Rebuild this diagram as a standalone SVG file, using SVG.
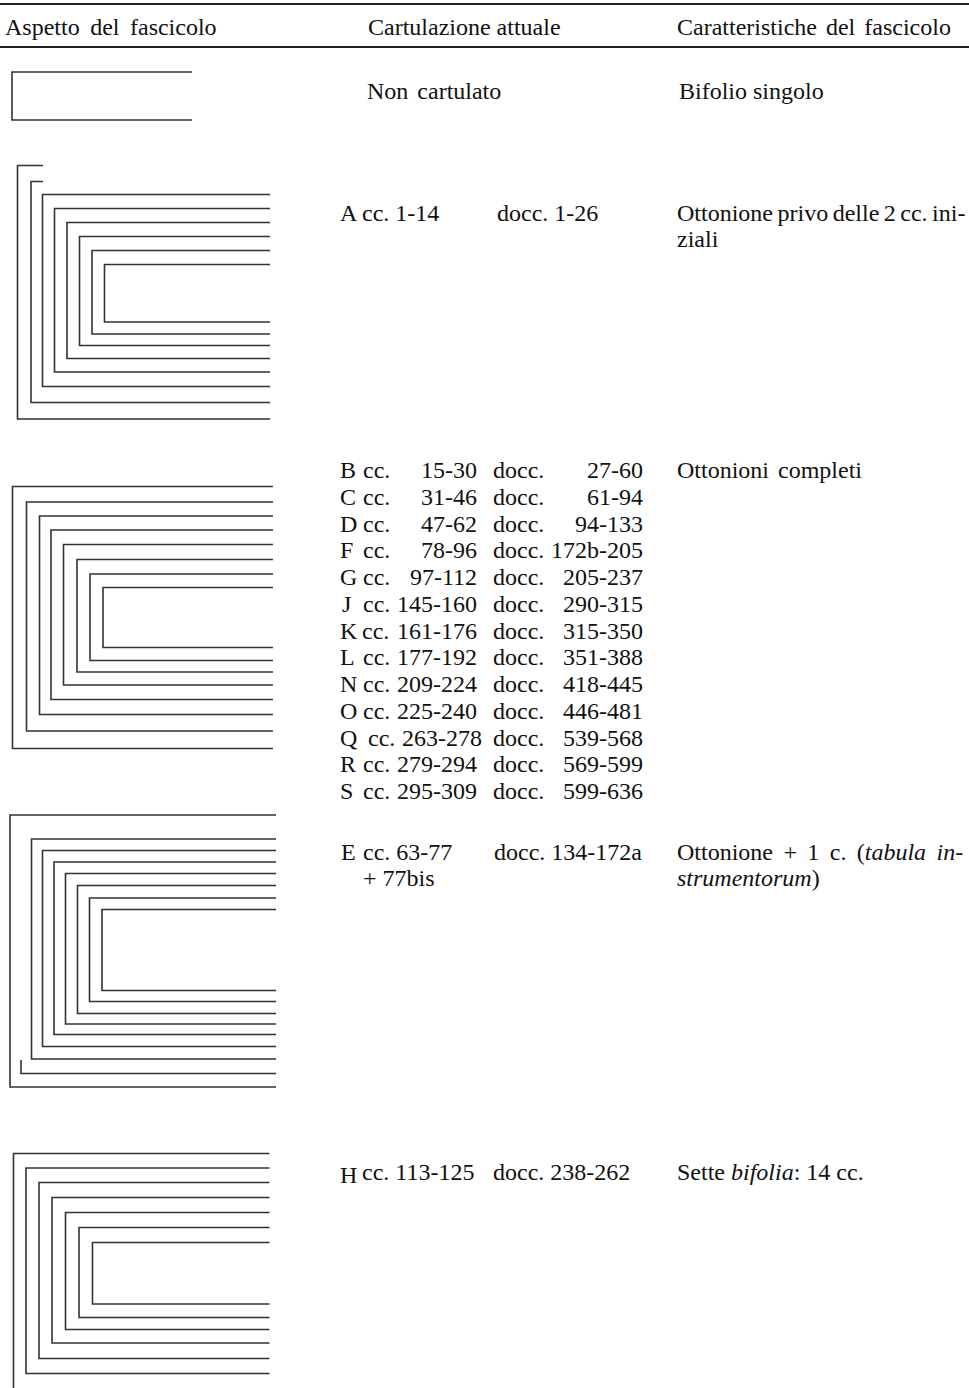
<svg xmlns="http://www.w3.org/2000/svg" width="969" height="1388" viewBox="0 0 969 1388">
<style>
text{font-family:"Liberation Serif","Times New Roman",serif;font-size:24px;fill:#111}
.it{font-style:italic}
.leaf{fill:none;stroke:#333;stroke-width:1.6}
.rule{stroke:#222;stroke-width:2}
.e{text-anchor:end}
</style>
<rect width="969" height="1388" fill="#fff"/>
<g id="header">
<line class="rule" x1="0" y1="4" x2="969" y2="4"/>
<line class="rule" x1="0" y1="47" x2="969" y2="47"/>
<text x="5" y="35" word-spacing="4.5">Aspetto del fascicolo</text>
<text x="368" y="35">Cartulazione attuale</text>
<text x="677" y="35" word-spacing="3">Caratteristiche del fascicolo</text>
</g>
<g id="row-bifolio">
<path class="leaf" d="M192,72 H12 V120 H192"/>
<text x="367" y="99" word-spacing="3">Non cartulato</text>
<text x="679" y="99">Bifolio singolo</text>
</g>
<g id="row-A">
<path class="leaf" d="M43,165.5 H17.5 V419 H270"/>
<path class="leaf" d="M43,181.5 H31 V402.5 H270"/>
<path class="leaf" d="M270,194.5 H42.5 V386.5 H270"/>
<path class="leaf" d="M270,208.5 H54.5 V372 H270"/>
<path class="leaf" d="M270,222.5 H67 V358.5 H270"/>
<path class="leaf" d="M270,236.5 H79.5 V345.5 H270"/>
<path class="leaf" d="M270,250.5 H92 V334 H270"/>
<path class="leaf" d="M270,264.5 H104.5 V322 H270"/>
<text x="340" y="221">A</text>
<text x="362" y="221">cc. 1-14</text>
<text x="497" y="221">docc. 1-26</text>
<text x="677" y="221" word-spacing="-1.5">Ottonione privo delle 2 cc. ini-</text>
<text x="677" y="247">ziali</text>
</g>
<g id="row-B">
<path class="leaf" d="M273,486.5 H12.5 V748.5 H273"/>
<path class="leaf" d="M273,502 H26.5 V731 H273"/>
<path class="leaf" d="M273,516 H39.5 V714.5 H273"/>
<path class="leaf" d="M273,530 H51 V699.5 H273"/>
<path class="leaf" d="M273,544.5 H63.5 V685 H273"/>
<path class="leaf" d="M273,559.5 H77 V672 H273"/>
<path class="leaf" d="M273,574 H90 V660.5 H273"/>
<path class="leaf" d="M273,587.5 H103 V647.5 H273"/>
<g transform="translate(0,478)">
<text x="340" y="0">B</text><text x="363" y="0">cc.</text><text class="e" x="477" y="0">15-30</text><text x="493" y="0">docc.</text><text class="e" x="643" y="0">27-60</text>
<text x="340" y="26.75">C</text><text x="363" y="26.75">cc.</text><text class="e" x="477" y="26.75">31-46</text><text x="493" y="26.75">docc.</text><text class="e" x="643" y="26.75">61-94</text>
<text x="340" y="53.5">D</text><text x="363" y="53.5">cc.</text><text class="e" x="477" y="53.5">47-62</text><text x="493" y="53.5">docc.</text><text class="e" x="643" y="53.5">94-133</text>
<text x="340" y="80.25">F</text><text x="363" y="80.25">cc.</text><text class="e" x="477" y="80.25">78-96</text><text x="493" y="80.25">docc.</text><text class="e" x="643" y="80.25">172b-205</text>
<text x="340" y="107">G</text><text x="363" y="107">cc.</text><text class="e" x="477" y="107">97-112</text><text x="493" y="107">docc.</text><text class="e" x="643" y="107">205-237</text>
<text x="342" y="133.75">J</text><text x="363" y="133.75">cc.</text><text class="e" x="477" y="133.75">145-160</text><text x="493" y="133.75">docc.</text><text class="e" x="643" y="133.75">290-315</text>
<text x="340" y="160.5">K</text><text x="362" y="160.5">cc.</text><text class="e" x="477" y="160.5">161-176</text><text x="493" y="160.5">docc.</text><text class="e" x="643" y="160.5">315-350</text>
<text x="340" y="187.25">L</text><text x="363" y="187.25">cc.</text><text class="e" x="477" y="187.25">177-192</text><text x="493" y="187.25">docc.</text><text class="e" x="643" y="187.25">351-388</text>
<text x="340" y="214">N</text><text x="363" y="214">cc.</text><text class="e" x="477" y="214">209-224</text><text x="493" y="214">docc.</text><text class="e" x="643" y="214">418-445</text>
<text x="340" y="240.75">O</text><text x="363" y="240.75">cc.</text><text class="e" x="477" y="240.75">225-240</text><text x="493" y="240.75">docc.</text><text class="e" x="643" y="240.75">446-481</text>
<text x="340" y="267.5">Q</text><text x="368" y="267.5">cc.</text><text class="e" x="482" y="267.5">263-278</text><text x="493" y="267.5">docc.</text><text class="e" x="643" y="267.5">539-568</text>
<text x="340" y="294.25">R</text><text x="363" y="294.25">cc.</text><text class="e" x="477" y="294.25">279-294</text><text x="493" y="294.25">docc.</text><text class="e" x="643" y="294.25">569-599</text>
<text x="340" y="321">S</text><text x="363" y="321">cc.</text><text class="e" x="477" y="321">295-309</text><text x="493" y="321">docc.</text><text class="e" x="643" y="321">599-636</text>
</g>
<text x="677" y="478" word-spacing="3">Ottonioni completi</text>
</g>
<g id="row-E">
<path class="leaf" d="M276,815 H10 V1087 H276"/>
<path class="leaf" d="M276,839 H31.5 V1059 H276"/>
<path class="leaf" d="M276,850.5 H42.5 V1046.5 H276"/>
<path class="leaf" d="M276,862 H54 V1034.5 H276"/>
<path class="leaf" d="M276,873.5 H65.5 V1024 H276"/>
<path class="leaf" d="M276,885.5 H77.5 V1013.5 H276"/>
<path class="leaf" d="M276,898 H89.5 V1001.5 H276"/>
<path class="leaf" d="M276,909.5 H102 V990.5 H276"/>
<path class="leaf" d="M21,1060 V1073.5 H276"/>
<text x="341" y="860">E</text>
<text x="363" y="860">cc. 63-77</text>
<text x="363" y="886">+ 77bis</text>
<text x="494" y="860">docc. 134-172a</text>
<text x="677" y="860" word-spacing="4.4">Ottonione + 1 c. (<tspan class="it">tabula in-</tspan></text>
<text x="677" y="886"><tspan class="it">strumentorum</tspan>)</text>
</g>
<g id="row-H">
<path class="leaf" d="M269.5,1153.5 H13.5 V1400"/>
<path class="leaf" d="M269.5,1168 H26 V1373.5 H269.5"/>
<path class="leaf" d="M269.5,1182.5 H39 V1358.5 H269.5"/>
<path class="leaf" d="M269.5,1197.5 H52 V1343 H269.5"/>
<path class="leaf" d="M269.5,1212.5 H65.5 V1329.5 H269.5"/>
<path class="leaf" d="M269.5,1227.5 H79 V1317.5 H269.5"/>
<path class="leaf" d="M269.5,1242.5 H92.5 V1304 H269.5"/>
<text x="340" y="1183">H</text>
<text x="362" y="1180">cc. 113-125</text>
<text x="493" y="1180">docc. 238-262</text>
<text x="677" y="1180">Sette <tspan class="it">bifolia</tspan>: 14 cc.</text>
</g>
</svg>
